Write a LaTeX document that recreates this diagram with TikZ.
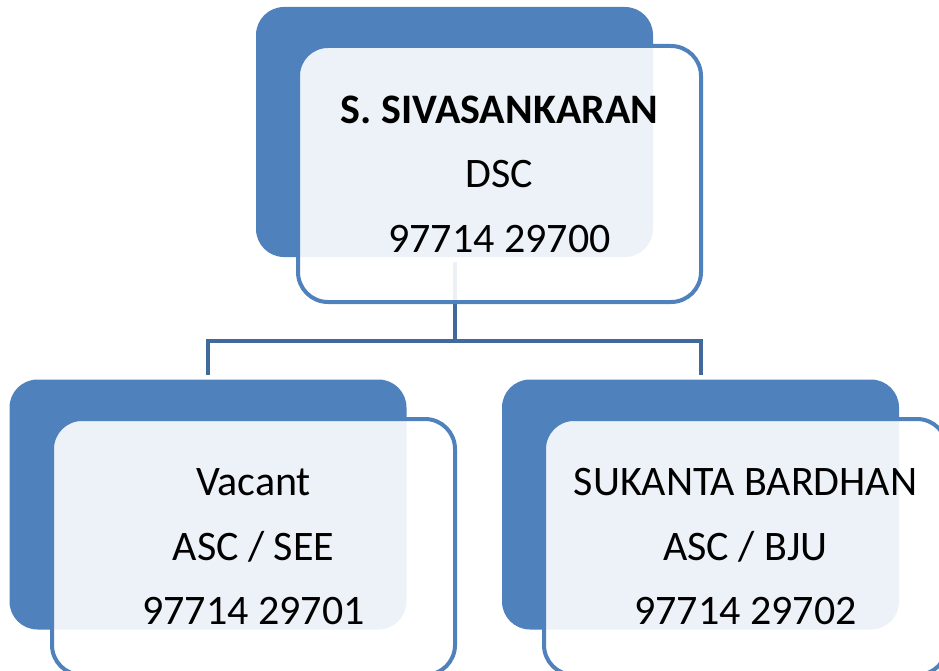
\documentclass[tikz,border=0pt]{standalone}
\usepackage{fontspec}
\setmainfont{Carlito}
\definecolor{darkblue}{HTML}{4F81BD}
\definecolor{connblue}{RGB}{65,105,155}
\begin{document}
\begin{tikzpicture}[x=1pt,y=-1pt,
  backbox/.style={fill=darkblue, draw=none, rounded corners=28pt, inner sep=0pt,
    minimum width=397pt, minimum height=250pt},
  frontbox/.style={draw=darkblue, line width=4pt, fill=white, fill opacity=0.9, text opacity=1,
    rounded corners=30pt, inner sep=0pt, minimum width=403pt, minimum height=256pt,
    align=center, font=\fontsize{42}{64.5}\selectfont},
  conn/.style={draw=connblue, line width=4pt, line join=miter}
]
\useasboundingbox (0,0) rectangle (939,671);
% back boxes
\node[backbox] (tb) at (454.5,132) {};
\node[backbox] (bl) at (208,504.5) {};
\node[backbox] (br) at (700.5,504.5) {};
% connectors
\coordinate (j) at (454.5,341);
\draw[conn, shorten <=5pt] (tb.south) -- (j);
\draw[conn, shorten <=4pt, shorten >=4pt] (bl.north) -- (bl.north |- j) -- (br.north |- j) -- (br.north);
% front boxes
\node[frontbox] (tf) at (499.5,174) {\textbf{S. SIVASANKARAN}\\DSC\\97714 29700};
\node[frontbox] (lf) at (253.5,547) {Vacant\\ASC / SEE\\97714 29701};
\node[frontbox] (rf) at (745.5,547) {SUKANTA BARDHAN\\ASC / BJU\\97714 29702};
\end{tikzpicture}
\end{document}
